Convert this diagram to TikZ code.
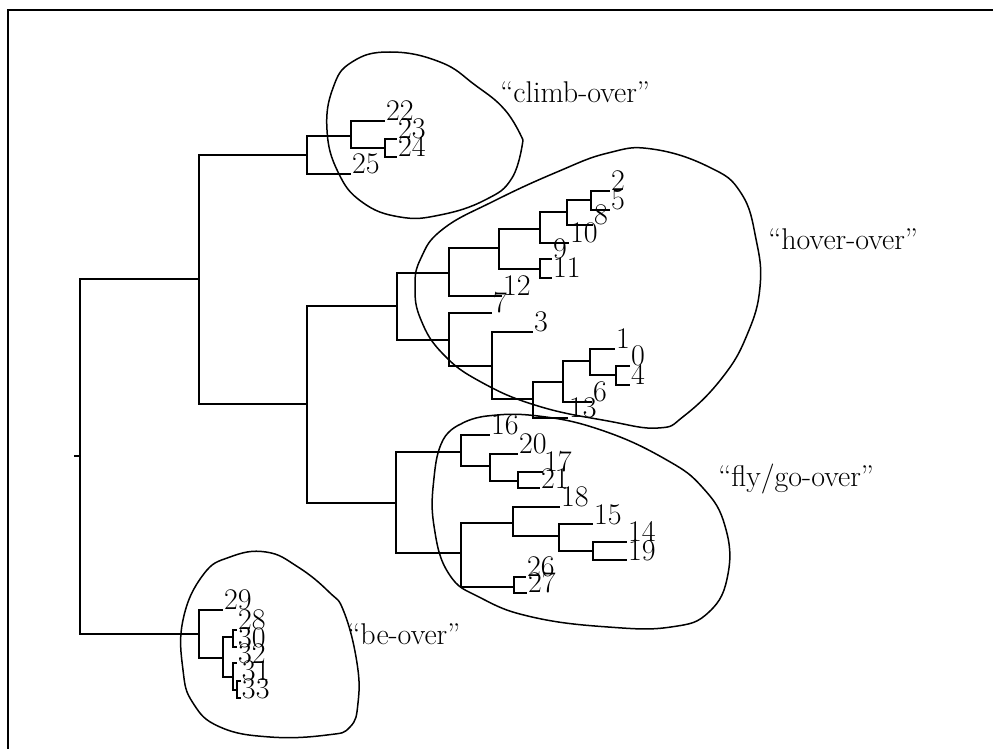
\documentclass[tikz,border=0pt]{standalone}
\usepackage{tikz}

\tikzset{
  branch/.style={line width=1pt},
  blob/.style={line width=0.75pt},
  leaf/.style={anchor=base west, inner sep=0.3pt, font=\fontsize{15}{18}\selectfont},
  group/.style={anchor=base west, inner sep=0pt, font=\fontsize{15}{18}\selectfont}
}

\begin{document}
\begin{tikzpicture}[x=0.5pt,y=-0.5pt]
  \useasboundingbox (0,0) rectangle (993,749);
  \draw[line width=1pt] (8,749) -- (8,10) -- (993,10);

  % joins: x = merge height, y = middle of the two children
  \coordinate (j_root) at (80,456);
  \coordinate (stub)   at (74,456);
  \coordinate (j_top)  at (199,279);
  \coordinate (j_be)   at (199,634);
  \coordinate (j_climb) at (307,155);
  \coordinate (j_mid)  at (307,404);
  \coordinate (j_c1) at (351,136);
  \coordinate (j_c2) at (385,148);
  \coordinate (j_hover) at (397,306);
  \coordinate (j_fly)   at (396,503);
  \coordinate (j_hA) at (449,273);
  \coordinate (j_hB) at (449,340);
  \coordinate (j_a1) at (499,248);
  \coordinate (j_a2) at (540,229);
  \coordinate (j_a3) at (540,269);
  \coordinate (j_a4) at (567,212);
  \coordinate (j_a5) at (591,200);
  \coordinate (j_b1) at (492,366);
  \coordinate (j_b2) at (533,399);
  \coordinate (j_b3) at (563,382);
  \coordinate (j_b4) at (590,361);
  \coordinate (j_b5) at (616,375);
  \coordinate (j_f1) at (461,452);
  \coordinate (j_f2) at (461,553);
  \coordinate (j_f3) at (490,466);
  \coordinate (j_f4) at (518,481);
  \coordinate (j_f5) at (513,523);
  \coordinate (j_f6) at (514,587);
  \coordinate (j_f7) at (559,536);
  \coordinate (j_f8) at (593,551);
  \coordinate (j_e1) at (223,658);
  \coordinate (j_e2) at (233,637);
  \coordinate (j_e3) at (233,677);
  \coordinate (j_e4) at (237,690);

  % leaves
  \foreach \n/\x/\y in {22/385/121, 23/397/139, 24/397/157, 25/351/174,
      2/610/191, 5/610/210, 8/593/225, 10/569/243, 9/552/259, 11/552/278,
      12/502/296, 7/492/313, 3/533/332, 1/615/349, 0/630/366, 4/630/385,
      6/592/402, 13/568/418,
      16/490/435, 20/518/454, 17/543/472, 21/540/488, 18/560/507,
      15/593/524, 14/627/542, 19/627/560, 26/526/577, 27/527/593,
      29/223/610, 28/237/630, 30/237/647, 32/237/663, 31/241/681, 33/241/698}
    \node[leaf] (l_\n) at (\x,\y) {\n};

  \draw[branch] (j_root) -- (stub);
  \draw[branch] (j_root) |- (j_top)  (j_root) |- (j_be);
  \draw[branch] (j_top) |- (j_climb)  (j_top) |- (j_mid);
  % climb-over
  \draw[branch] (j_climb) |- (j_c1)  (j_climb) |- (l_25.base west);
  \draw[branch] (j_c1) |- (l_22.base west)  (j_c1) |- (j_c2);
  \draw[branch] (j_c2) |- (l_23.base west)  (j_c2) |- (l_24.base west);
  % hover-over
  \draw[branch] (j_mid) |- (j_hover)  (j_mid) |- (j_fly);
  \draw[branch] (j_hover) |- (j_hA)  (j_hover) |- (j_hB);
  \draw[branch] (j_hA) |- (j_a1)  (j_hA) |- (l_12.base west);
  \draw[branch] (j_a1) |- (j_a2)  (j_a1) |- (j_a3);
  \draw[branch] (j_a2) |- (j_a4)  (j_a2) |- (l_10.base west);
  \draw[branch] (j_a4) |- (j_a5)  (j_a4) |- (l_8.base west);
  \draw[branch] (j_a5) |- (l_2.base west)  (j_a5) |- (l_5.base west);
  \draw[branch] (j_a3) |- (l_9.base west)  (j_a3) |- (l_11.base west);
  \draw[branch] (j_hB) |- (l_7.base west)  (j_hB) |- (j_b1);
  \draw[branch] (j_b1) |- (l_3.base west)  (j_b1) |- (j_b2);
  \draw[branch] (j_b2) |- (j_b3)  (j_b2) |- (l_13.base west);
  \draw[branch] (j_b3) |- (j_b4)  (j_b3) |- (l_6.base west);
  \draw[branch] (j_b4) |- (l_1.base west)  (j_b4) |- (j_b5);
  \draw[branch] (j_b5) |- (l_0.base west)  (j_b5) |- (l_4.base west);
  % fly/go-over
  \draw[branch] (j_fly) |- (j_f1)  (j_fly) |- (j_f2);
  \draw[branch] (j_f1) |- (l_16.base west)  (j_f1) |- (j_f3);
  \draw[branch] (j_f3) |- (l_20.base west)  (j_f3) |- (j_f4);
  \draw[branch] (j_f4) |- (l_17.base west)  (j_f4) |- (l_21.base west);
  \draw[branch] (j_f2) |- (j_f5)  (j_f2) |- (j_f6);
  \draw[branch] (j_f5) |- (l_18.base west)  (j_f5) |- (j_f7);
  \draw[branch] (j_f7) |- (l_15.base west)  (j_f7) |- (j_f8);
  \draw[branch] (j_f8) |- (l_14.base west)  (j_f8) |- (l_19.base west);
  \draw[branch] (j_f6) |- (l_26.base west)  (j_f6) |- (l_27.base west);
  % be-over
  \draw[branch] (j_be) |- (l_29.base west)  (j_be) |- (j_e1);
  \draw[branch] (j_e1) |- (j_e2)  (j_e1) |- (j_e3);
  \draw[branch] (j_e2) |- (l_28.base west)  (j_e2) |- (l_30.base west);
  \draw[branch] (j_e3) |- (l_32.base west)  (j_e3) |- (j_e4);
  \draw[branch] (j_e4) |- (l_31.base west)  (j_e4) |- (l_33.base west);

  % hand-drawn group outlines
  \draw[blob] plot[smooth, tension=0.75] coordinates {(523,140) (505,110) (475,85)
      (440,62) (390,52) (352,62) (333,88) (327,130) (338,172) (362,202)
      (400,217) (440,215) (485,200) (512,178) (523,140)};
  \draw[blob] plot[smooth cycle, tension=0.75] coordinates {(652,149) (709,167)
      (741,193) (756,239) (760,287) (747,335) (722,378) (684,416) (658,428)
      (608,421) (538,406) (481,382) (443,354) (421,320) (415,287) (421,258)
      (443,229) (494,201) (557,172) (608,153)};
  \draw[blob] plot[smooth, tension=0.75] coordinates {(461,424) (487,416)
      (538,416) (601,430) (665,459) (703,488) (725,526) (728,574) (709,612)
      (671,627) (608,627) (532,617) (481,598) (449,574) (434,526) (434,478)
      (443,440) (461,424)};
  \draw[blob] plot[smooth cycle, tension=0.75] coordinates {(266,552) (298,567)
      (329,592) (344,612) (357,663) (358,703) (350,727) (327,735) (270,737)
      (220,727) (193,703) (183,670) (183,620) (203,575) (230,557)};

  \node[group] (g_climb) at (500,103) {“climb-over”};
  \node[group] (g_hover) at (768,250) {“hover-over”};
  \node[group] (g_fly)   at (718,487) {“fly/go-over”};
  \node[group] (g_be)    at (347,645) {“be-over”};
\end{tikzpicture}
\end{document}
